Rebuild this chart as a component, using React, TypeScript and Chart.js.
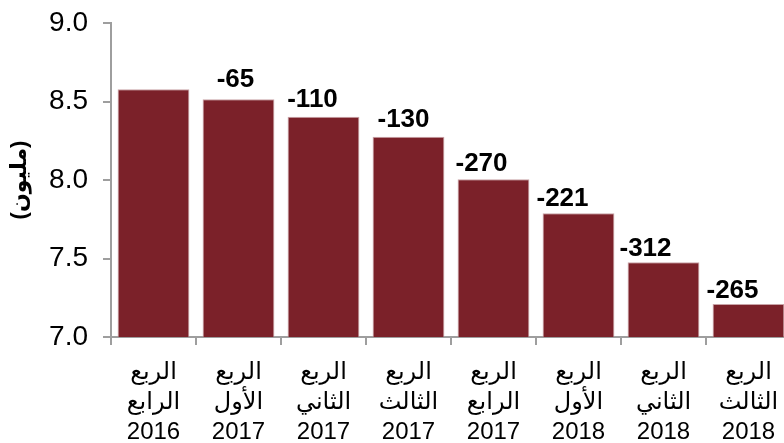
import React, { useEffect, useRef } from "react";
import { Chart, registerables } from "chart.js";

Chart.register(...registerables);

const categories: string[][] = [
  ["الربع", "الرابع", "2016"],
  ["الربع", "الأول", "2017"],
  ["الربع", "الثاني", "2017"],
  ["الربع", "الثالث", "2017"],
  ["الربع", "الرابع", "2017"],
  ["الربع", "الأول", "2018"],
  ["الربع", "الثاني", "2018"],
  ["الربع", "الثالث", "2018"],
];
const values: number[] = [8.578, 8.514, 8.403, 8.276, 8.004, 7.788, 7.476, 7.21];
const changeLabels: string[] = ["", "-65", "-110", "-130", "-270", "-221", "-312", "-265"];
const yTicks: number[] = [7.0, 7.5, 8.0, 8.5, 9.0];
const yTitle = "(مليون)";

// label placement tweaks (style only)
const labelDx: number[] = [0, -3, -11, -5, -12, -16, -18, -16];
const labelDy: number[] = [8, 12, 10, 10, 8, 7, 6, 6];

const BAR = "#7B2129";
const AXIS = "#9E9E9E";

export default function App() {
  const ref = useRef<HTMLCanvasElement | null>(null);

  useEffect(() => {
    document.body.style.margin = "0";
    document.body.style.overflow = "hidden";
    const canvas = ref.current;
    if (!canvas) return;

    const labelPlugin = {
      id: "changeLabels",
      afterDatasetsDraw(chart: any) {
        const meta = chart.getDatasetMeta(0);
        const ctx = chart.ctx;
        ctx.save();
        ctx.font = "bold 26px 'Liberation Sans', Arial, sans-serif";
        ctx.fillStyle = "#000";
        ctx.textAlign = "center";
        ctx.textBaseline = "alphabetic";
        meta.data.forEach((bar: any, i: number) => {
          const t = changeLabels[i];
          if (!t) return;
          ctx.fillText(t, bar.x + labelDx[i], bar.y - labelDy[i]);
        });
        ctx.restore();
      },
    };

    const chart = new Chart(canvas, {
      type: "bar",
      data: {
        labels: categories,
        datasets: [
          {
            data: values,
            backgroundColor: BAR,
            borderColor: "#C9A3A7",
            borderWidth: 1,
            categoryPercentage: 1,
            barPercentage: 0.845,
          },
        ],
      },
      options: {
        animation: false,
        responsive: false,
        devicePixelRatio: 1,
        layout: { padding: { top: 23, left: 0, right: 0, bottom: 0 } },
        plugins: {
          legend: { display: false },
          tooltip: { enabled: false },
        },
        scales: {
          x: {
            offset: true,
            grid: {
              offset: true,
              drawOnChartArea: false,
              drawTicks: true,
              tickLength: 8,
              color: AXIS,
              lineWidth: 2,
            },
            border: { display: true, color: AXIS, width: 2 },
            ticks: {
              color: "#000",
              padding: 12,
              maxRotation: 0,
              autoSkip: false,
              font: { family: "'Liberation Sans', Arial, 'DejaVu Sans', sans-serif", size: 24, lineHeight: 1.25 },
            },
            afterFit(scale: any) {
              scale.height = 106;
              scale.paddingLeft = 0;
              scale.paddingRight = 0;
            },
          },
          y: {
            min: 7,
            max: 9,
            afterBuildTicks(scale: any) {
              scale.ticks = yTicks.map((v) => ({ value: v }));
            },
            grid: {
              drawOnChartArea: false,
              drawTicks: true,
              tickLength: 8,
              color: AXIS,
              lineWidth: 2,
            },
            border: { display: true, color: AXIS, width: 2 },
            ticks: {
              color: "#000",
              padding: 15,
              font: { family: "'Liberation Sans', Arial, sans-serif", size: 28 },
              callback: (v: any) => Number(v).toFixed(1),
            },
            title: {
              display: true,
              text: yTitle,
              color: "#000",
              padding: { top: 7, bottom: 0 },
              font: { family: "'Liberation Sans', Arial, 'DejaVu Sans', sans-serif", size: 22, weight: "bold", lineHeight: 1.2 },
            },
            afterFit(scale: any) {
              scale.width = 111;
              scale.paddingTop = 0;
              scale.paddingBottom = 0;
            },
          },
        },
      },
      plugins: [labelPlugin],
    });

    return () => chart.destroy();
  }, []);

  return (
    <div style={{ width: 784, height: 443, overflow: "hidden", position: "relative" }}>
      <canvas ref={ref} width={791} height={443} style={{ width: 791, height: 443, display: "block" }} />
    </div>
  );
}
